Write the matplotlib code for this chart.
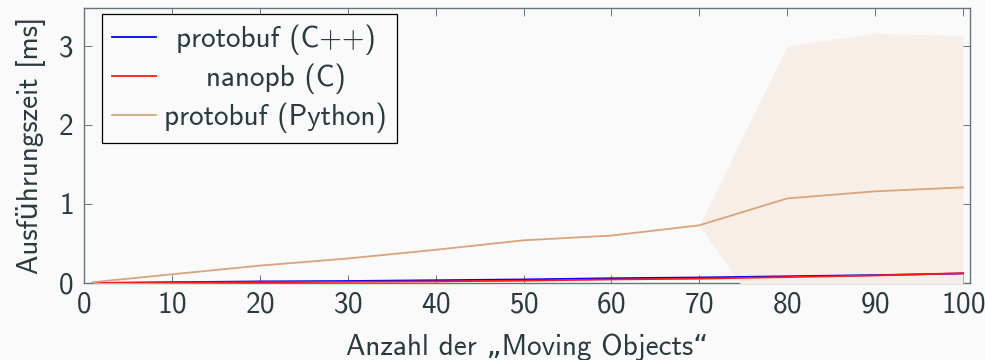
import matplotlib
matplotlib.use("Agg")
from matplotlib import pyplot as plt
import matplotlib.transforms as mtransforms
import numpy as np

# data
n_objects = [1, 10, 20, 30, 40, 50, 60, 70, 80, 90, 100]
cpp_mean = [0.0, 0.01, 0.02, 0.025, 0.035, 0.045, 0.06, 0.07, 0.085, 0.10, 0.12]
cpp_std = [0.003, 0.004, 0.005, 0.005, 0.006, 0.006, 0.007, 0.007, 0.008, 0.008, 0.009]
c_mean = [0.0, 0.005, 0.01, 0.015, 0.02, 0.03, 0.045, 0.055, 0.075, 0.095, 0.125]
c_std = [0.002, 0.003, 0.003, 0.004, 0.004, 0.005, 0.005, 0.006, 0.006, 0.007, 0.007]
py_mean = [0.01, 0.11, 0.22, 0.31, 0.42, 0.54, 0.60, 0.73, 1.07, 1.16, 1.21]
py_std = [0.0, 0.0, 0.0, 0.0, 0.0, 0.0, 0.0, 0.0, 1.93, 2.0, 1.92]

labels = ["protobuf (C++)", "nanopb (C)", "protobuf (Python)"]
colors = ["#0000ff", "#ff1a1a", "#d9a47c"]
band_colors = ["#c8c8ff", "#ffc8c8", "#f8eee8"]

bg = "#fafafa"
txt = "#2b3a3f"
axc = "#66767a"
fs = 21

plt.rcParams['font.family'] = ['cmss10', 'DejaVu Sans']
plt.rcParams['axes.formatter.use_mathtext'] = True
plt.rcParams['mathtext.fontset'] = 'cm'
plt.rcParams['font.size'] = fs
plt.rcParams['text.color'] = txt

fig = plt.figure(figsize=(9.85, 3.6), dpi=100, facecolor=bg)
ax = fig.add_axes([0.0853, 0.2139, 0.8995, 0.7639], facecolor=bg)

x = np.array(n_objects)
series = [(cpp_mean, cpp_std), (c_mean, c_std), (py_mean, py_std)]
for i, (m, s) in enumerate(series):
    m = np.array(m)
    s = np.array(s)
    ax.fill_between(x, m - s, m + s, color=band_colors[i], lw=0, zorder=3)
for i, (m, s) in enumerate(series):
    ax.plot(x, m, color=colors[i], lw=1.3, label=labels[i], zorder=4)

ax.set_xlim(0, 100.8)
ax.set_ylim(0, 3.48)
ax.set_xticks(range(0, 101, 10))
ax.set_yticks([0, 1, 2, 3])
ax.tick_params(direction='in', length=5.5, width=0.7, color=axc, labelcolor=txt,
               top=True, right=True, labelsize=fs)
ax.tick_params(axis='x', pad=6)
ax.tick_params(axis='y', pad=7.5)
for sp in ax.spines.values():
    sp.set_color(axc)
    sp.set_linewidth(1.0)

ax.set_xlabel("Anzahl der \u201eMoving Objects\u201c", color=txt, fontsize=fs, labelpad=11)
ax.set_ylabel("Ausführungszeit [ms]", color=txt, fontsize=fs, labelpad=9)

leg = ax.legend(loc='upper left', bbox_to_anchor=(0.02, 0.978), borderaxespad=0,
                fancybox=False, framealpha=1, facecolor=bg, edgecolor='black',
                handlelength=1.5, handletextpad=0.3, labelspacing=0.3,
                borderpad=0.35, fontsize=fs)
leg.get_frame().set_linewidth(0.9)
leg.set_zorder(10)

# center the legend labels like pgfplots does
fig.canvas.draw()
r = fig.canvas.get_renderer()
texts = leg.get_texts()
widths = [t.get_window_extent(r).width for t in texts]
wmax = max(widths)
for t, w in zip(texts, widths):
    t.set_transform(t.get_transform() + mtransforms.Affine2D().translate((wmax - w) / 2, 0))

fig.savefig("out.png", dpi=100, facecolor=bg)
